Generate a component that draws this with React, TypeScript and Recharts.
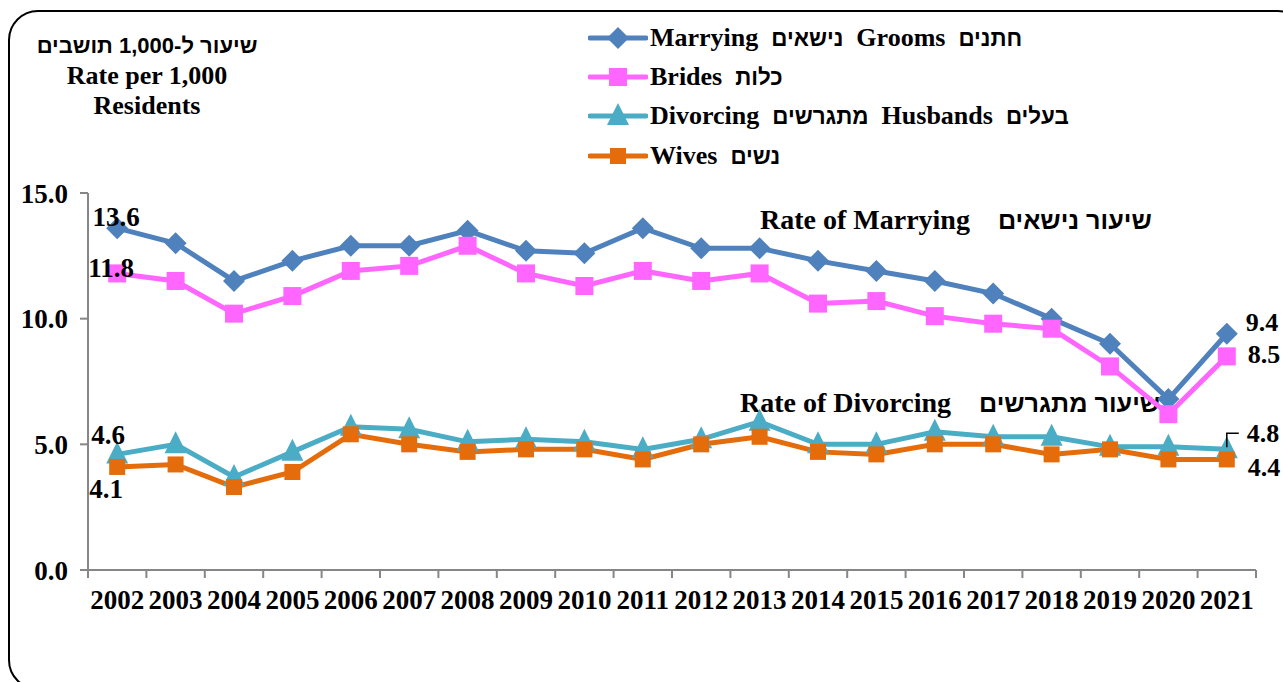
import { LineChart, Line, XAxis, YAxis, LabelList } from 'recharts'

// categories and series (rate per 1,000 residents)
const years = ['2002', '2003', '2004', '2005', '2006', '2007', '2008', '2009', '2010', '2011',
  '2012', '2013', '2014', '2015', '2016', '2017', '2018', '2019', '2020', '2021']
const grooms = [13.6, 13.0, 11.5, 12.3, 12.9, 12.9, 13.5, 12.7, 12.6, 13.6, 12.8, 12.8, 12.3, 11.9, 11.5, 11.0, 10.0, 9.0, 6.8, 9.4]
const brides = [11.8, 11.5, 10.2, 10.9, 11.9, 12.1, 12.9, 11.8, 11.3, 11.9, 11.5, 11.8, 10.6, 10.7, 10.1, 9.8, 9.6, 8.1, 6.2, 8.5]
const husbands = [4.6, 5.0, 3.7, 4.7, 5.7, 5.6, 5.1, 5.2, 5.1, 4.8, 5.2, 5.9, 5.0, 5.0, 5.5, 5.3, 5.3, 4.9, 4.9, 4.8]
const wives = [4.1, 4.2, 3.3, 3.9, 5.4, 5.0, 4.7, 4.8, 4.8, 4.4, 5.0, 5.3, 4.7, 4.6, 5.0, 5.0, 4.6, 4.8, 4.4, 4.4]
const yTicks = [0, 5, 10, 15]

const data = years.map((year, i) => ({
  year,
  grooms: grooms[i],
  brides: brides[i],
  husbands: husbands[i],
  wives: wives[i],
}))

const W = 1283
const H = 682
const PLOT_LEFT = 88
const PLOT_RIGHT = 1256
const BAND = (PLOT_RIGHT - PLOT_LEFT) / years.length
const SERIF = "'Liberation Serif', 'Times New Roman', serif"
const HEB = "'Liberation Sans', 'DejaVu Sans', sans-serif"
const AXIS = '#868686'

type Shape = 'diamond' | 'square' | 'triangle'

const series: { key: string; color: string; shape: Shape; size: number; label: string }[] = [
  { key: 'grooms', color: '#4F81BD', shape: 'diamond', size: 11, label: 'Marrying  נישאים  Grooms  חתנים' },
  { key: 'brides', color: '#FF66FF', shape: 'square', size: 9, label: 'Brides  כלות' },
  { key: 'husbands', color: '#4BACC6', shape: 'triangle', size: 11, label: 'Divorcing  מתגרשים  Husbands  בעלים' },
  { key: 'wives', color: '#E46C0A', shape: 'square', size: 8, label: 'Wives  נשים' },
]

// end label offsets relative to the point: [dx, dy, anchor]
const labelPos: Record<string, { first: [number, number, string]; last: [number, number, string] }> = {
  grooms: { first: [-1, -2, 'middle'], last: [19, -3, 'start'] },
  brides: { first: [-6, 4, 'middle'], last: [21, 7, 'start'] },
  husbands: { first: [-9, -10, 'middle'], last: [20, -7, 'start'] },
  wives: { first: [-11, 31, 'middle'], last: [21, 17, 'start'] },
}

function Marker({ cx, cy, shape, size, color }: { cx: number; cy: number; shape: Shape; size: number; color: string }) {
  if (shape === 'diamond') {
    return <polygon points={`${cx},${cy - size} ${cx + size},${cy} ${cx},${cy + size} ${cx - size},${cy}`} fill={color} />
  }
  if (shape === 'triangle') {
    return <polygon points={`${cx},${cy - size - 2} ${cx + size},${cy + size - 2} ${cx - size},${cy + size - 2}`} fill={color} />
  }
  return <rect x={cx - size} y={cy - size} width={size * 2} height={size * 2} fill={color} />
}

// split mixed text so Hebrew runs get a sans face
function Mixed({ text, heb = '0.9em' }: { text: string; heb?: string }) {
  const parts = text.split(/([\u0590-\u05FF][\u0590-\u05FF\s\-]*[\u0590-\u05FF]|[\u0590-\u05FF])/)
  return (
    <>
      {parts.map((p, i) =>
        /[\u0590-\u05FF]/.test(p) ? (
          <span key={i} style={{ fontFamily: HEB, fontSize: heb }}>{p}</span>
        ) : (
          <span key={i}>{p}</span>
        )
      )}
    </>
  )
}

function YearTick(props: any) {
  const { x, y, payload, index } = props
  const half = BAND / 2
  return (
    <g>
      <line x1={x - half} x2={x - half} y1={y} y2={y + 8} stroke={AXIS} strokeWidth={2} />
      {index === years.length - 1 && (
        <line x1={x + half} x2={x + half} y1={y} y2={y + 8} stroke={AXIS} strokeWidth={2} />
      )}
      <text x={x} y={y + 39} textAnchor="middle" fontFamily={SERIF} fontWeight="bold" fontSize={27} fill="#000">
        {payload.value}
      </text>
    </g>
  )
}

function endLabel(key: string) {
  return (props: any) => {
    const { x, y, value, index } = props
    const last = index === years.length - 1
    if (index !== 0 && !last) return null
    const [dx, dy, anchor] = last ? labelPos[key].last : labelPos[key].first
    return (
      <g key={`l-${key}-${index}`}>
        {last && key === 'husbands' && (
          <polyline points={`${x},${y - 2} ${x},${y - 16} ${x + 12},${y - 16}`} fill="none" stroke="#000" strokeWidth={1.5} />
        )}
        <text x={x + dx} y={y + dy} textAnchor={anchor as any} fontFamily={SERIF} fontWeight="bold" fontSize={last ? 26 : 27} fill="#000">
          {Number(value).toFixed(1)}
        </text>
      </g>
    )
  }
}

export default function App() {
  return (
    <div style={{ position: 'fixed', left: 0, top: 0, width: W, height: H, background: '#fff', overflow: 'hidden', fontFamily: SERIF }}>
      {/* rounded frame */}
      <div
        style={{ position: 'absolute', left: 8, top: 10, width: 1300, height: 680, border: '2px solid #000', borderRadius: 30, boxSizing: 'border-box' }}
      />

      {/* axis title */}
      <div style={{ position: 'absolute', left: 27, top: 31, width: 240, textAlign: 'center', fontWeight: 'bold', fontSize: 26, lineHeight: '30px' }}>
        <div dir="rtl" style={{ fontFamily: HEB, fontSize: 22 }}>שיעור ל-1,000 תושבים</div>
        <div>Rate per 1,000</div>
        <div>Residents</div>
      </div>

      {/* legend */}
      <div style={{ position: 'absolute', left: 588, top: 18 }}>
        {series.map((s) => (
          <div key={s.key} style={{ display: 'flex', alignItems: 'center', height: 39.3 }}>
            <svg width={60} height={30} style={{ marginRight: 2 }}>
              <line x1={2} x2={58} y1={15} y2={15} stroke={s.color} strokeWidth={5} strokeLinecap="round" />
              <Marker cx={30} cy={15} shape={s.shape} size={s.size} color={s.color} />
            </svg>
            <span style={{ fontWeight: 'bold', fontSize: 26, whiteSpace: 'pre' }}>
              <Mixed text={s.label} heb="0.86em" />
            </span>
          </div>
        ))}
      </div>

      {/* in-plot annotations */}
      <div style={{ position: 'absolute', left: 760, top: 203, fontWeight: 'bold', fontSize: 28, lineHeight: '34px', whiteSpace: 'pre' }}>
        <Mixed text={'Rate of Marrying    שיעור נישאים'} />
      </div>
      <div style={{ position: 'absolute', left: 740, top: 386, fontWeight: 'bold', fontSize: 28, lineHeight: '34px', whiteSpace: 'pre' }}>
        <Mixed text={'Rate of Divorcing    שיעור מתגרשים'} />
      </div>

      <div style={{ position: 'absolute', left: 0, top: 0 }}>
        <LineChart width={W} height={H} data={data} margin={{ top: 193, right: W - PLOT_RIGHT, bottom: 82, left: PLOT_LEFT - 60 }}>
          <XAxis
            dataKey="year"
            height={30}
            padding={{ left: BAND / 2, right: BAND / 2 }}
            axisLine={{ stroke: AXIS, strokeWidth: 2 }}
            tickLine={false}
            tickSize={0}
            tickMargin={0}
            interval={0}
            tick={<YearTick />}
          />
          <YAxis
            width={60}
            domain={[0, 15]}
            ticks={yTicks}
            interval={0}
            tickFormatter={(v: number) => v.toFixed(1)}
            axisLine={{ stroke: AXIS, strokeWidth: 2 }}
            tickLine={{ stroke: AXIS, strokeWidth: 2 }}
            tickSize={8}
            tickMargin={12}
            tick={{ fill: '#000', fontFamily: SERIF, fontWeight: 'bold', fontSize: 27 }}
          />
          {series.map((s) => (
            <Line
              key={s.key}
              dataKey={s.key}
              stroke={s.color}
              strokeWidth={5}
              isAnimationActive={false}
              dot={(p: any) => <Marker key={`d-${s.key}-${p.index}`} cx={p.cx} cy={p.cy} shape={s.shape} size={s.size} color={s.color} />}
              activeDot={false}
            >
              <LabelList dataKey={s.key} content={endLabel(s.key)} />
            </Line>
          ))}
        </LineChart>
      </div>
    </div>
  )
}
